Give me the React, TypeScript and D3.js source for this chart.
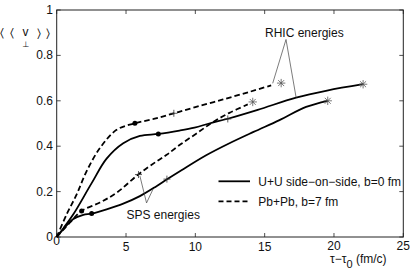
import React from "react";
import * as d3 from "d3";

type Pt = [number, number];

// tau - tau0 (fm/c), <<v_perp>>
const uuRhic: Pt[] = [
  [0, 0], [0.5, 0.04], [1.2, 0.1], [2.5, 0.235], [3.6, 0.345], [4.8, 0.413],
  [6.0, 0.445], [7.33, 0.454], [8.86, 0.469], [9.94, 0.482], [11.0, 0.5],
  [12.4, 0.522], [14.5, 0.56], [17.27, 0.614], [19.5, 0.645], [22.1, 0.673],
];
const pbRhic: Pt[] = [
  [0, 0], [0.72, 0.1], [1.44, 0.188], [2.16, 0.29], [3.12, 0.392], [4.32, 0.472],
  [5.64, 0.501], [7.0, 0.52], [8.45, 0.545], [10.0, 0.572], [12.0, 0.606],
  [14.0, 0.641], [15.47, 0.668],
];
const uuSps: Pt[] = [
  [0, 0], [0.48, 0.035], [1.2, 0.079], [1.92, 0.097], [2.52, 0.103], [3.6, 0.122],
  [4.8, 0.147], [6.0, 0.18], [7.2, 0.224], [7.93, 0.253], [9.0, 0.294],
  [10.78, 0.36], [12.46, 0.413], [14.2, 0.463], [16.07, 0.515], [17.99, 0.573],
  [19.55, 0.6],
];
const pbSps: Pt[] = [
  [0, 0], [0.96, 0.064], [1.8, 0.115], [3.12, 0.152], [4.32, 0.195], [5.88, 0.275],
  [7.2, 0.333], [7.93, 0.362], [8.86, 0.405], [10.06, 0.455], [11.24, 0.505],
  [12.46, 0.547], [13.78, 0.584],
];

// markers: dot, plus, star
const dots: Pt[] = [[7.33, 0.454], [5.64, 0.501], [2.52, 0.103], [1.8, 0.115]];
const pluses: Pt[] = [[12.34, 0.52], [8.45, 0.545], [7.95, 0.255], [5.9, 0.275]];
const stars: Pt[] = [[22.1, 0.673], [16.19, 0.678], [19.55, 0.6], [14.14, 0.595]];

const xTicks = [0, 5, 10, 15, 20, 25];
const yTicks = [0, 0.2, 0.4, 0.6, 0.8, 1];

const rhicApex: Pt = [16.54, 0.87];
const rhicTargets: Pt[] = [[15.58, 0.677], [17.27, 0.614]];
const spsApex: Pt = [6.48, 0.15];
const spsTargets: Pt[] = [[6.0, 0.269], [6.95, 0.211]];

const legendItems = [
  { label: "U+U side\u2212on\u2212side, b=0 fm", dash: "none" },
  { label: "Pb+Pb, b=7 fm", dash: "5,3" },
];

const W = 414;
const H = 273;
const font = "'Liberation Sans', Arial, Helvetica, sans-serif";
const DASH = "5.5,3";

export default function App() {
  const x = d3.scaleLinear().domain([0, 25]).range([56.7, 403.3]);
  const y = d3.scaleLinear().domain([0, 1]).range([237, 10]);
  const line = d3
    .line<Pt>()
    .x((d) => x(d[0]))
    .y((d) => y(d[1]))
    .curve(d3.curveCatmullRom.alpha(0.5));

  const curves = [
    { data: uuRhic, dash: "none" },
    { data: pbRhic, dash: DASH },
    { data: uuSps, dash: "none" },
    { data: pbSps, dash: DASH },
  ];

  const [x0, x1] = x.range();
  const [y0, y1] = y.range();

  return (
    <svg
      width={W}
      height={H}
      style={{ position: "absolute", left: 0, top: 0, background: "#fff" }}
      fontFamily={font}
    >
      <rect x={0} y={0} width={W} height={H} fill="#fff" />
      {/* frame */}
      <rect x={x0} y={y1} width={x1 - x0} height={y0 - y1} fill="none" stroke="#222" strokeWidth={1} />
      {xTicks.map((t) => (
        <g key={"xt" + t}>
          <line x1={x(t)} x2={x(t)} y1={y0} y2={y0 - 4} stroke="#222" strokeWidth={0.8} />
          <line x1={x(t)} x2={x(t)} y1={y1} y2={y1 + 4} stroke="#222" strokeWidth={0.8} />
          <text
            x={x(t)}
            y={t === 0 ? 245 : t >= 20 ? 249.5 : 251}
            textAnchor="middle"
            fontSize={12}
            fill="#111"
          >
            {t}
          </text>
        </g>
      ))}
      {yTicks.map((v) => (
        <g key={"yt" + v}>
          <line x1={x0} x2={x0 + 4} y1={y(v)} y2={y(v)} stroke="#222" strokeWidth={0.8} />
          <line x1={x1} x2={x1 - 4} y1={y(v)} y2={y(v)} stroke="#222" strokeWidth={0.8} />
          <text x={53} y={y(v) + 4} textAnchor="end" fontSize={12} fill="#111">
            {v === 0 || v === 1 ? String(v) : v.toFixed(1)}
          </text>
        </g>
      ))}

      {/* curves */}
      {curves.map((c, i) => (
        <path
          key={"c" + i}
          d={line(c.data) || ""}
          fill="none"
          stroke="#000"
          strokeWidth={1.8}
          strokeDasharray={c.dash}
        />
      ))}

      {/* markers */}
      {dots.map((d, i) => (
        <circle key={"d" + i} cx={x(d[0])} cy={y(d[1])} r={2.5} fill="#000" />
      ))}
      {pluses.map((d, i) => (
        <g key={"p" + i} stroke="#333" strokeWidth={0.8}>
          <line x1={x(d[0]) - 3.5} x2={x(d[0]) + 3.5} y1={y(d[1])} y2={y(d[1])} />
          <line x1={x(d[0])} x2={x(d[0])} y1={y(d[1]) - 3.5} y2={y(d[1]) + 3.5} />
        </g>
      ))}
      {stars.map((d, i) => {
        const cx = x(d[0]);
        const cy = y(d[1]);
        const r = 4.2;
        return (
          <g key={"s" + i} stroke="#555" strokeWidth={0.8}>
            {[0, 45, 90, 135].map((a) => {
              const rad = (a * Math.PI) / 180;
              return (
                <line
                  key={a}
                  x1={cx - r * Math.cos(rad)}
                  x2={cx + r * Math.cos(rad)}
                  y1={cy - r * Math.sin(rad)}
                  y2={cy + r * Math.sin(rad)}
                />
              );
            })}
          </g>
        );
      })}

      {/* annotations */}
      {rhicTargets.map((p, i) => (
        <line
          key={"ra" + i}
          x1={x(rhicApex[0])}
          y1={y(rhicApex[1])}
          x2={x(p[0])}
          y2={y(p[1])}
          stroke="#444"
          strokeWidth={0.7}
        />
      ))}
      <text x={265} y={36.5} fontSize={12} fill="#111">
        RHIC energies
      </text>
      {spsTargets.map((p, i) => (
        <line
          key={"sa" + i}
          x1={x(spsApex[0])}
          y1={y(spsApex[1])}
          x2={x(p[0])}
          y2={y(p[1])}
          stroke="#444"
          strokeWidth={0.7}
        />
      ))}
      <text x={126.5} y={219} fontSize={12} fill="#111">
        SPS energies
      </text>

      {/* legend */}
      {legendItems.map((item, i) => (
        <g key={"lg" + i}>
          <line
            x1={218.5}
            x2={250}
            y1={181.3 + i * 20}
            y2={181.3 + i * 20}
            stroke="#000"
            strokeWidth={1.8}
            strokeDasharray={item.dash}
          />
          <text x={258.3} y={185.5 + i * 20} fontSize={12} fill="#111">
            {item.label}
          </text>
        </g>
      ))}

      {/* axis labels */}
      <text x={0} y={37} fontSize={12} fill="#111" fontFamily={"'DejaVu Sans', " + font}>
        <tspan>{"\u2329"}</tspan>
        <tspan x={9.5}>{"\u2329"}</tspan>
        <tspan x={22.5} y={35.5} fontFamily={font}>v</tspan>
        <tspan x={22.5} y={46.5} fontSize={8}>{"\u22A5"}</tspan>
        <tspan x={36.5} y={37}>{"\u232A"}</tspan>
        <tspan x={46}>{"\u232A"}</tspan>
      </text>
      <text x={330} y={263} fontSize={12} fill="#111">
        {"\u03C4\u2212\u03C4"}
        <tspan fontSize={11} dy={4.5}>0</tspan>
        <tspan dy={-4.5}> (fm/c)</tspan>
      </text>
    </svg>
  );
}
